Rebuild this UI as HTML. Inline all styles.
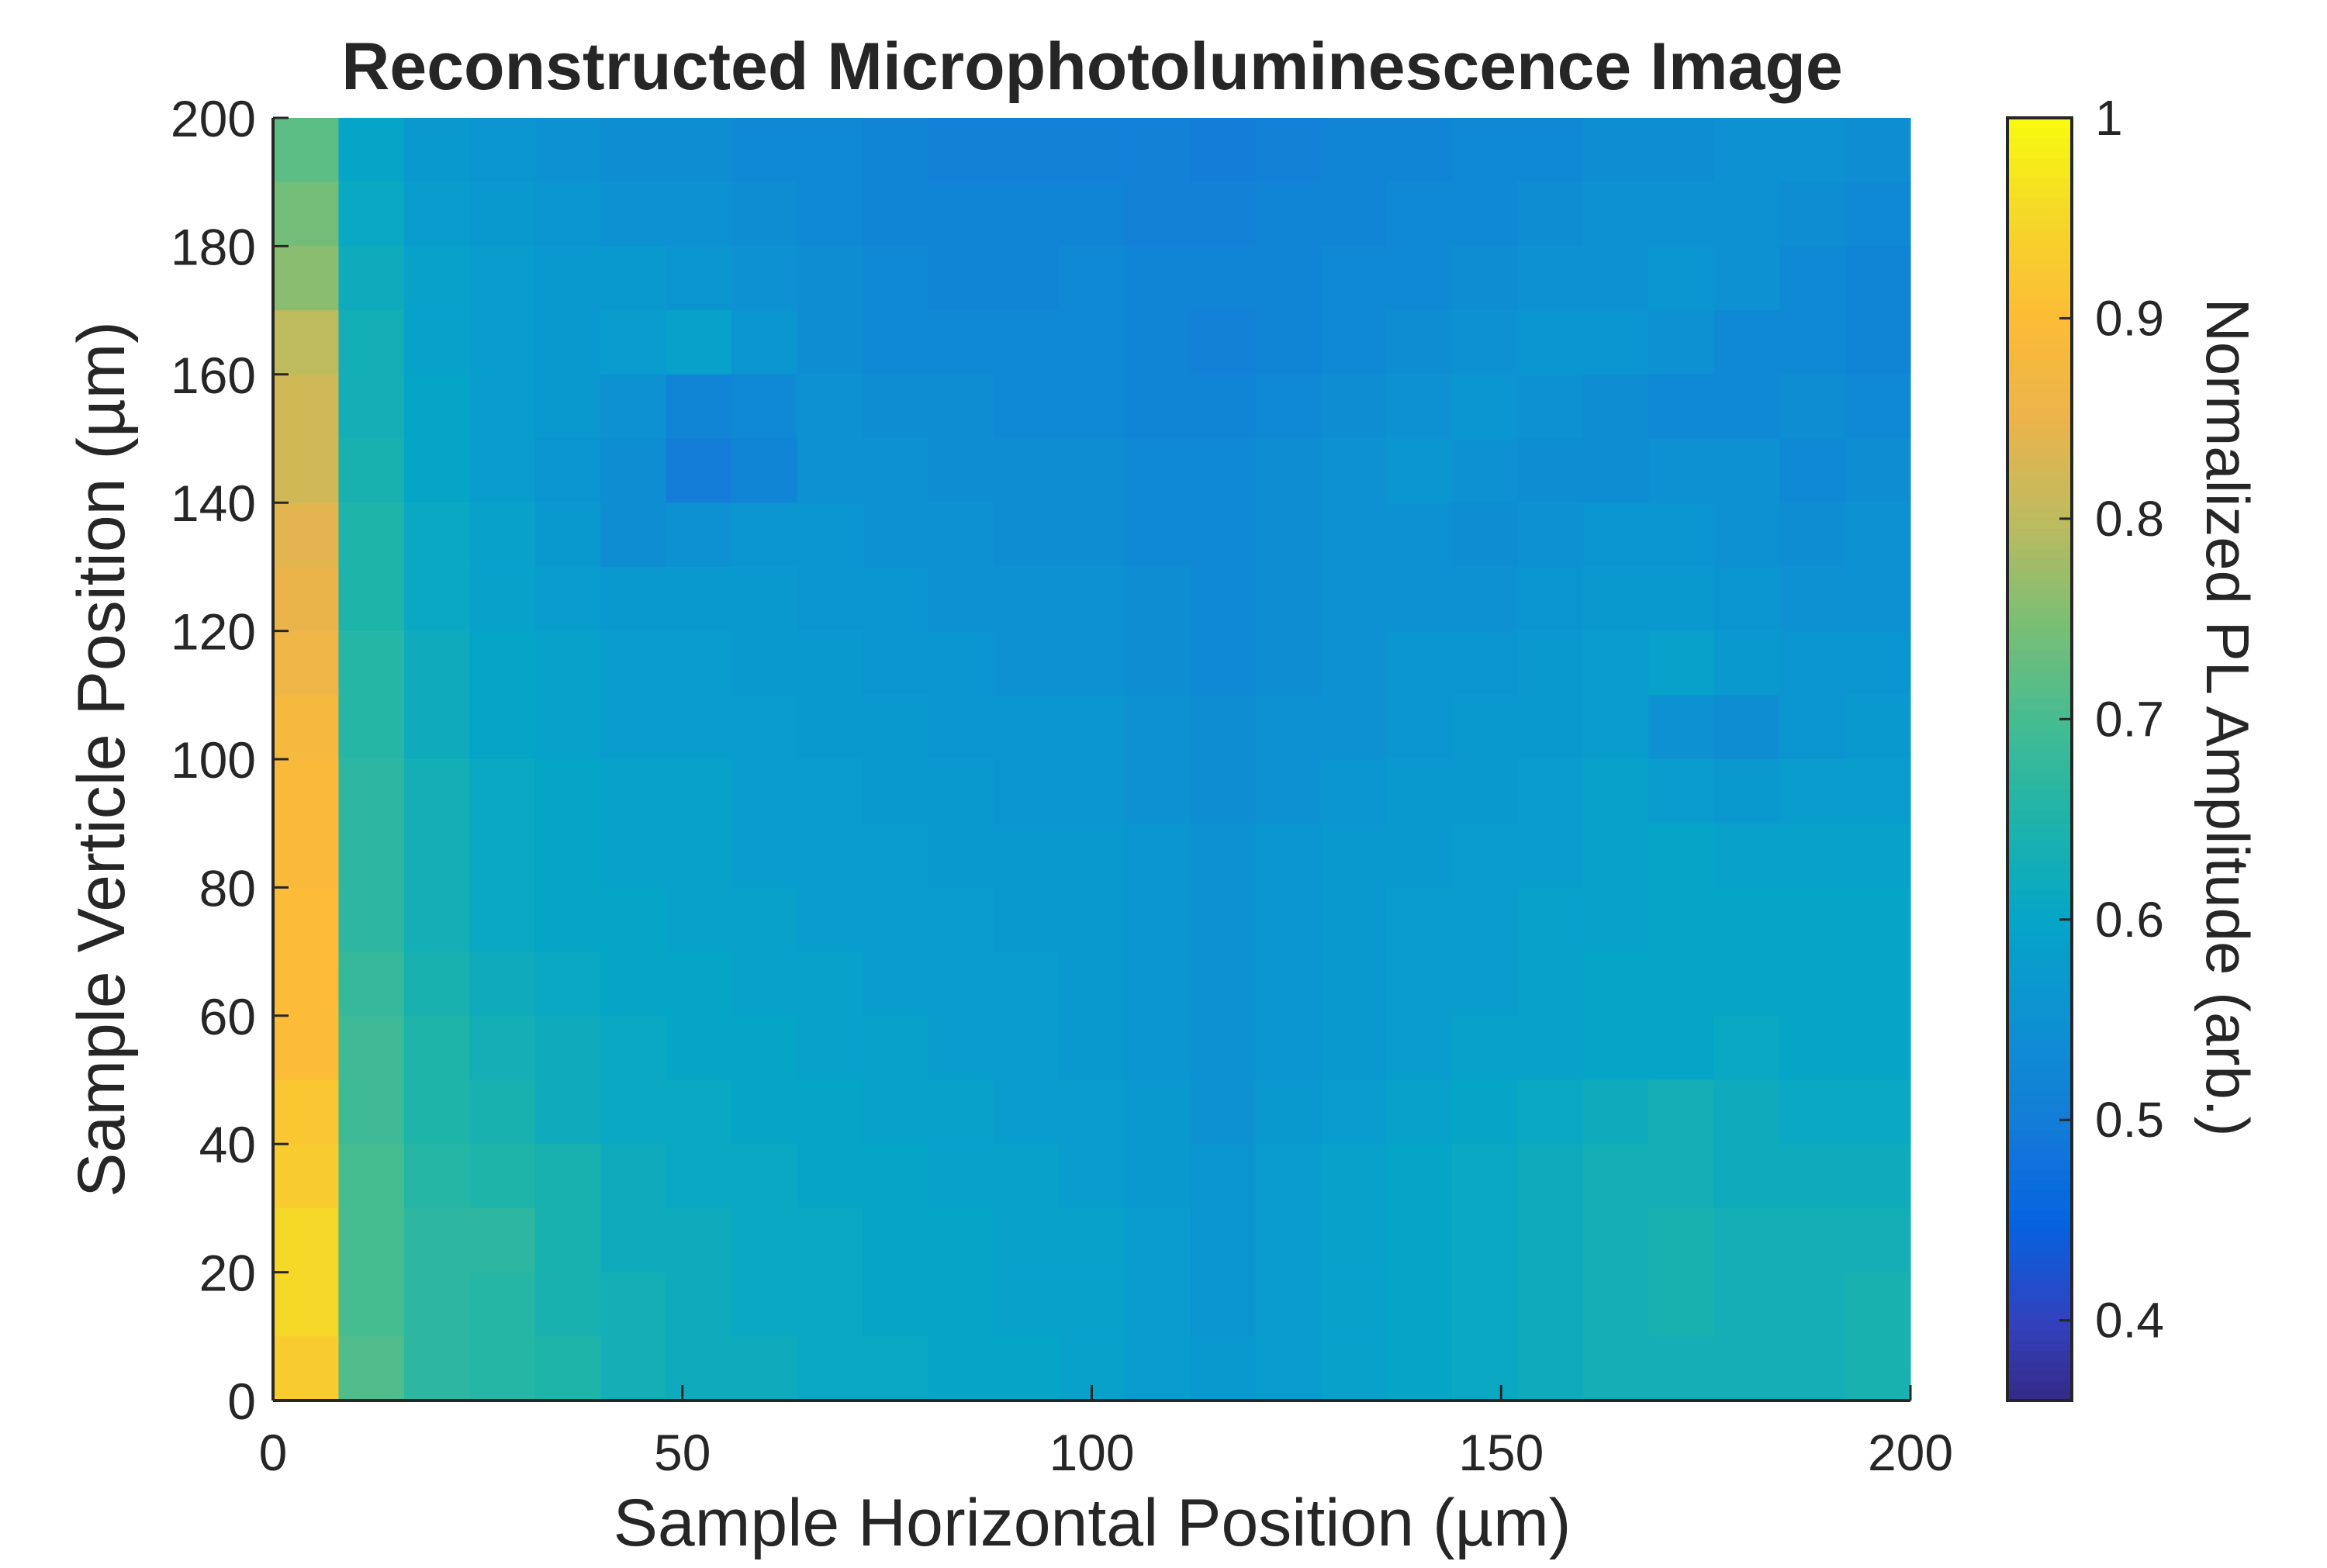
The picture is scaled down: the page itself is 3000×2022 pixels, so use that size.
<!DOCTYPE html>
<html><head><meta charset="utf-8">
<style>
html,body{margin:0;padding:0;background:#fff;}
svg{display:block;}
text{font-family:"Liberation Sans",sans-serif;fill:#262626;}
</style></head>
<body>
<svg id="chart" width="3000" height="2022" viewBox="0 0 3000 2022" xmlns="http://www.w3.org/2000/svg">
<text x="1408" y="115" text-anchor="middle" font-size="86" font-weight="bold" fill="#000">Reconstructed Microphotoluminescence Image</text>
<g id="heat"></g>
<g id="cbar"></g>
<g id="axes"></g>
<text x="1408" y="1993" text-anchor="middle" font-size="86">Sample Horizontal Position (µm)</text>
<text transform="translate(160,979) rotate(-90)" text-anchor="middle" font-size="86">Sample Verticle Position (µm)</text>
<text transform="translate(2845,925) rotate(90)" text-anchor="middle" font-size="78" fill="#444">Normalized PL Amplitude (arb.)</text>
</svg>
<script>
const xEdges = [0,8,16,24,32,40,48,56,64,72,80,88,96,104,112,120,128,136,144,152,160,168,176,184,192,200];
const yCenters = [195,185,175,165,155,145,135,125,115,105,95,85,75,65,55,45,35,25,15,5];
const row195=[.72,.60,.57,.56,.55,.54,.54,.53,.53,.52,.51,.51,.51,.51,.50,.51,.52,.52,.53,.53,.54,.54,.55,.55,.54];
const row185=[.74,.61,.58,.57,.56,.55,.55,.54,.53,.52,.52,.52,.52,.51,.51,.52,.52,.53,.53,.54,.55,.55,.55,.54,.53];
const row175=[.76,.62,.59,.58,.57,.57,.56,.55,.54,.53,.52,.52,.53,.52,.52,.52,.53,.53,.54,.55,.55,.56,.55,.53,.52];
const row165=[.80,.63,.59,.58,.57,.58,.59,.56,.54,.53,.53,.53,.53,.52,.51,.52,.53,.54,.55,.56,.56,.55,.53,.53,.52];
const row155=[.82,.63,.60,.58,.57,.55,.52,.53,.55,.54,.54,.53,.53,.52,.52,.53,.54,.55,.56,.55,.54,.53,.53,.54,.53];
const row145=[.82,.64,.60,.58,.56,.54,.50,.52,.55,.55,.54,.54,.54,.53,.53,.54,.55,.56,.55,.54,.54,.55,.55,.53,.54];
const row135=[.84,.65,.61,.59,.57,.54,.55,.56,.56,.55,.55,.54,.54,.53,.53,.54,.55,.55,.54,.55,.56,.56,.55,.54,.55];
const row125=[.85,.65,.61,.59,.58,.57,.57,.57,.56,.56,.55,.55,.55,.54,.53,.54,.55,.55,.55,.56,.57,.57,.56,.55,.55];
const row115=[.86,.66,.62,.60,.59,.58,.58,.57,.57,.56,.56,.55,.55,.54,.53,.54,.55,.56,.56,.57,.58,.59,.57,.56,.56];
const row105=[.88,.66,.62,.60,.59,.58,.58,.58,.57,.57,.56,.56,.56,.55,.54,.55,.55,.56,.57,.57,.58,.55,.54,.56,.57];
const row95 =[.89,.67,.63,.61,.60,.59,.59,.58,.58,.57,.57,.56,.56,.55,.54,.55,.56,.57,.57,.58,.59,.58,.57,.58,.58];
const row85 =[.89,.67,.63,.61,.60,.59,.59,.58,.58,.58,.57,.57,.57,.56,.55,.56,.57,.57,.58,.58,.59,.60,.59,.59,.59];
const row75 =[.90,.67,.63,.61,.60,.60,.59,.59,.58,.58,.58,.57,.57,.56,.55,.56,.57,.58,.58,.59,.59,.60,.60,.60,.60];
const row65 =[.90,.68,.64,.62,.61,.60,.60,.59,.59,.58,.58,.58,.57,.56,.55,.56,.57,.58,.58,.59,.60,.60,.60,.60,.60];
const row55 =[.90,.69,.65,.63,.62,.61,.60,.60,.59,.59,.58,.58,.57,.56,.55,.56,.57,.58,.59,.59,.60,.60,.61,.60,.60];
const row45 =[.92,.69,.65,.64,.62,.61,.61,.60,.60,.59,.59,.58,.58,.57,.55,.57,.58,.59,.60,.61,.62,.63,.62,.61,.61];
const row35 =[.93,.70,.66,.65,.64,.62,.61,.61,.60,.60,.59,.59,.58,.57,.56,.58,.59,.60,.61,.62,.63,.63,.62,.62,.62];
const row25 =[.95,.70,.67,.67,.64,.62,.62,.61,.61,.60,.60,.59,.59,.58,.56,.58,.59,.60,.61,.62,.63,.64,.63,.63,.63];
const row15 =[.95,.70,.67,.66,.64,.63,.62,.61,.61,.60,.60,.59,.59,.58,.56,.58,.59,.60,.61,.62,.63,.64,.63,.63,.64];
const row5  =[.93,.71,.67,.66,.65,.63,.62,.62,.61,.61,.60,.60,.59,.58,.57,.58,.59,.60,.61,.62,.63,.63,.63,.63,.64];
const rows=[row195,row185,row175,row165,row155,row145,row135,row125,row115,row105,row95,row85,row75,row65,row55,row45,row35,row25,row15,row5];
const xTicks=[0,50,100,150,200];
const yTicks=[0,20,40,60,80,100,120,140,160,180,200];
const cTicks=[0.4,0.5,0.6,0.7,0.8,0.9,1];
const cStopVals=[0.36,0.40,0.45,0.50,0.55,0.60,0.65,0.70,0.75,0.80,0.85,0.90,0.95,1.00];
const cStopCols=[[53,42,135],[50,65,190],[5,100,225],[20,125,215],[13,145,210],[5,165,200],[30,180,170],[70,188,145],[125,190,115],[190,187,95],[235,180,75],[252,188,55],[245,215,40],[249,250,15]];
const cMin=0.36,cMax=1;

const NS="http://www.w3.org/2000/svg";
const L=352,R=2463,T=152,B=1806;
const CL=2588,CR=2671;
const xs=v=>L+(v-0)/(200-0)*(R-L);
const ys=v=>B-(v-0)/(200-0)*(B-T);
const cs=v=>B-(v-cMin)/(cMax-cMin)*(B-T);
function cmap(v){
  v=Math.max(cMin,Math.min(cMax,v));
  for(let i=0;i<cStopVals.length-1;i++){
    if(v<=cStopVals[i+1]){const t=(v-cStopVals[i])/(cStopVals[i+1]-cStopVals[i]);
      const a=cStopCols[i],b=cStopCols[i+1];
      return `rgb(${a.map((c,k)=>Math.round(c+(b[k]-c)*t)).join(',')})`;}
  }
  return 'rgb(249,250,15)';
}
function mk(tag,attrs,parent){const e=document.createElementNS(NS,tag);for(const k in attrs)e.setAttribute(k,attrs[k]);parent.appendChild(e);return e;}

const heat=document.getElementById('heat');
rows.forEach((row,ri)=>{
  const yc=yCenters[ri];
  row.forEach((v,ci)=>{
    const r=mk('rect',{x:xs(xEdges[ci]),y:ys(yc+5),width:xs(xEdges[ci+1])-xs(xEdges[ci])+0.5,height:ys(yc-5)-ys(yc+5)+0.5,fill:cmap(v)},heat);
    
    
  });
});

const cbar=document.getElementById('cbar');
for(let i=0;i<128;i++){
  const v0=cMin+(cMax-cMin)*i/128, v1=cMin+(cMax-cMin)*(i+1)/128;
  const r=mk('rect',{x:CL,y:cs(v1),width:CR-CL,height:cs(v0)-cs(v1)+0.5,fill:cmap((v0+v1)/2)},cbar);
  
  
}
mk('rect',{x:CL,y:T,width:CR-CL,height:B-T,fill:'none',stroke:'#262626','stroke-width':4},cbar);
cTicks.forEach(v=>{
  const y=cs(v);
  mk('line',{x1:CR-16,x2:CR,y1:y,y2:y,stroke:'#262626','stroke-width':3},cbar);
  const t=mk('text',{x:CR+30,y:y+22,'font-size':64},cbar);
  t.textContent=String(v);
  
  
});

const axes=document.getElementById('axes');
mk('line',{x1:L,x2:R,y1:B,y2:B,stroke:'#262626','stroke-width':4},axes);
mk('line',{x1:L,x2:L,y1:T,y2:B,stroke:'#262626','stroke-width':4},axes);
xTicks.forEach(v=>{
  const x=xs(v);
  mk('line',{x1:x,x2:x,y1:B,y2:B-20,stroke:'#262626','stroke-width':3},axes);
  const t=mk('text',{x:x,y:B+90,'font-size':66,'text-anchor':'middle'},axes);
  t.textContent=String(v);
  
  
});
yTicks.forEach(v=>{
  const y=ys(v);
  mk('line',{x1:L,x2:L+20,y1:y,y2:y,stroke:'#262626','stroke-width':3},axes);
  const t=mk('text',{x:L-22,y:y+24,'font-size':66,'text-anchor':'end'},axes);
  t.textContent=String(v);
  
  
});
</script>
</body></html>
